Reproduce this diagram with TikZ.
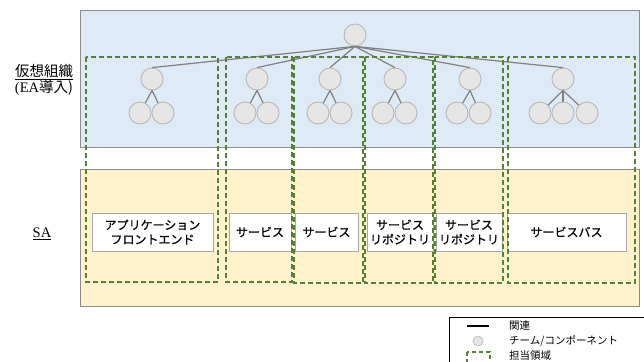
\documentclass[tikz,border=0pt]{standalone}
\usepackage{fontspec}
\setmainfont{Liberation Serif}
\newfontfamily\jpgothic{Noto Sans CJK JP}
\newfontfamily\jpheavy[FakeBold=0.6]{Noto Sans CJK JP}
\usetikzlibrary{positioning}
\definecolor{orgblue}{HTML}{DEEAF6}
\definecolor{sayellow}{HTML}{FFF2CC}
\definecolor{framegray}{HTML}{8C8C8C}
\definecolor{circfill}{HTML}{E6E6E6}
\definecolor{circedge}{HTML}{B3B3B3}
\definecolor{linkgray}{HTML}{808080}
\definecolor{areagreen}{HTML}{538135}
\definecolor{boxgray}{HTML}{A6A6A6}
\tikzset{
  member/.style={circle,draw=circedge,fill=circfill,minimum size=22pt,inner sep=0pt,line width=0.8pt},
  link/.style={draw=linkgray,line width=1.2pt},
  layer/.style={draw=framegray,line width=0.9pt},
  area/.style={draw=areagreen,dash pattern=on 5pt off 3pt,line width=1.6pt},
  sabox/.style={rectangle,draw=boxgray,fill=white,line width=0.9pt,align=center,
    minimum height=38pt,inner sep=0pt,font=\jpheavy\fontsize{12}{14.5}\selectfont},
  sidelabel/.style={align=center,font=\fontsize{14.5}{16.5}\selectfont},
  legendtext/.style={anchor=west,inner sep=0pt,font=\jpgothic\fontsize{10.5}{12}\selectfont}}

\begin{document}
\begin{tikzpicture}[x=1pt,y=-1pt]
        \useasboundingbox (0,0) rectangle (644,361);

        % layers
        \draw[layer,fill=orgblue] (80,10) rectangle (639,147);
        \draw[layer,fill=sayellow] (80,169) rectangle (639,306);

        \node[sidelabel] (org) at (44,80) {\jpgothic\underline{仮想組織}\\(EA\jpgothic 導入)};
        \node[sidelabel] (sa) at (42,234) {\underline{SA}};

        % virtual organisation tree
        \node[member] (root) at (355,35) {};

        \node[member] (t1) at (152,79) {};
        \node[member] (t1a) at (140,113) {};
        \node[member] (t1b) at (163,113) {};

        \node[member] (t2) at (257,79) {};
        \node[member] (t2a) at (245,113) {};
        \node[member] (t2b) at (268,113) {};

        \node[member] (t3) at (330,79) {};
        \node[member] (t3a) at (318,113) {};
        \node[member] (t3b) at (341,113) {};

        \node[member] (t4) at (395,79) {};
        \node[member] (t4a) at (383,113) {};
        \node[member] (t4b) at (406,113) {};

        \node[member] (t5) at (470,79) {};
        \node[member] (t5a) at (457,113) {};
        \node[member] (t5b) at (480,113) {};

        \node[member] (t6) at (563,79) {};
        \node[member] (t6a) at (540,113) {};
        \node[member] (t6b) at (563,113) {};
        \node[member] (t6c) at (587,113) {};

        \path[link] (root.south) edge (t1.north);
        \path[link] (root.south) edge (t2.north);
        \path[link] (root.south) edge (t3.north);
        \path[link] (root.south) edge (t4.north);
        \path[link] (root.south) edge (t5.north);
        \path[link] (root.south) edge (t6.north);

        \path[link] (t1.south) edge (t1a) edge (t1b);
        \path[link] (t2.south) edge (t2a) edge (t2b);
        \path[link] (t3.south) edge (t3a) edge (t3b);
        \path[link] (t4.south) edge (t4a) edge (t4b);
        \path[link] (t5.south) edge (t5a) edge (t5b);
        \path[link] (t6.south) edge (t6a) edge (t6b) edge (t6c);

        % SA components
        \node[sabox,minimum width=121pt] (front) at (152.5,232) {アプリケーション\\フロントエンド};
        \node[sabox,minimum width=62pt] (svc1) at (260,232) {サービス};
        \node[sabox,minimum width=63pt] (svc2) at (326.5,232) {サービス};
        \node[sabox,minimum width=66pt] (repo1) at (400,232) {サービス\\リポジトリ};
        \node[sabox,minimum width=66pt] (repo2) at (469,232) {サービス\\リポジトリ};
        \node[sabox,minimum width=119pt] (bus) at (566.5,232) {サービスバス};

        % areas of responsibility
        \draw[area] (86,57) rectangle (218,282);
        \draw[area] (226,57) rectangle (292,282);
        \draw[area] (294,57) rectangle (363,283);
        \draw[area] (365,57) rectangle (433,283);
        \draw[area] (435,57) rectangle (503,283);
        \draw[area] (508,57) rectangle (635,283);

        % legend
        \draw[line width=0.8pt] (449,317) rectangle (660,380);
        \coordinate (lineL) at (467,326);
        \coordinate (lineR) at (489,326);
        \draw[line width=1.2pt] (lineL) -- (lineR);
        \node[legendtext] (relation) at (509,326) {関連};
        \node[member,minimum size=10pt,line width=0.6pt] (legmember) at (478,341) {};
        \node[legendtext] (team) at (509,341) {チーム/コンポーネント};
        \draw[area,line width=1.4pt,dash pattern=on 4pt off 3pt] (467,352) rectangle (490,372);
        \node[legendtext] (resp) at (509,356) {担当領域};
\end{tikzpicture}
\end{document}
